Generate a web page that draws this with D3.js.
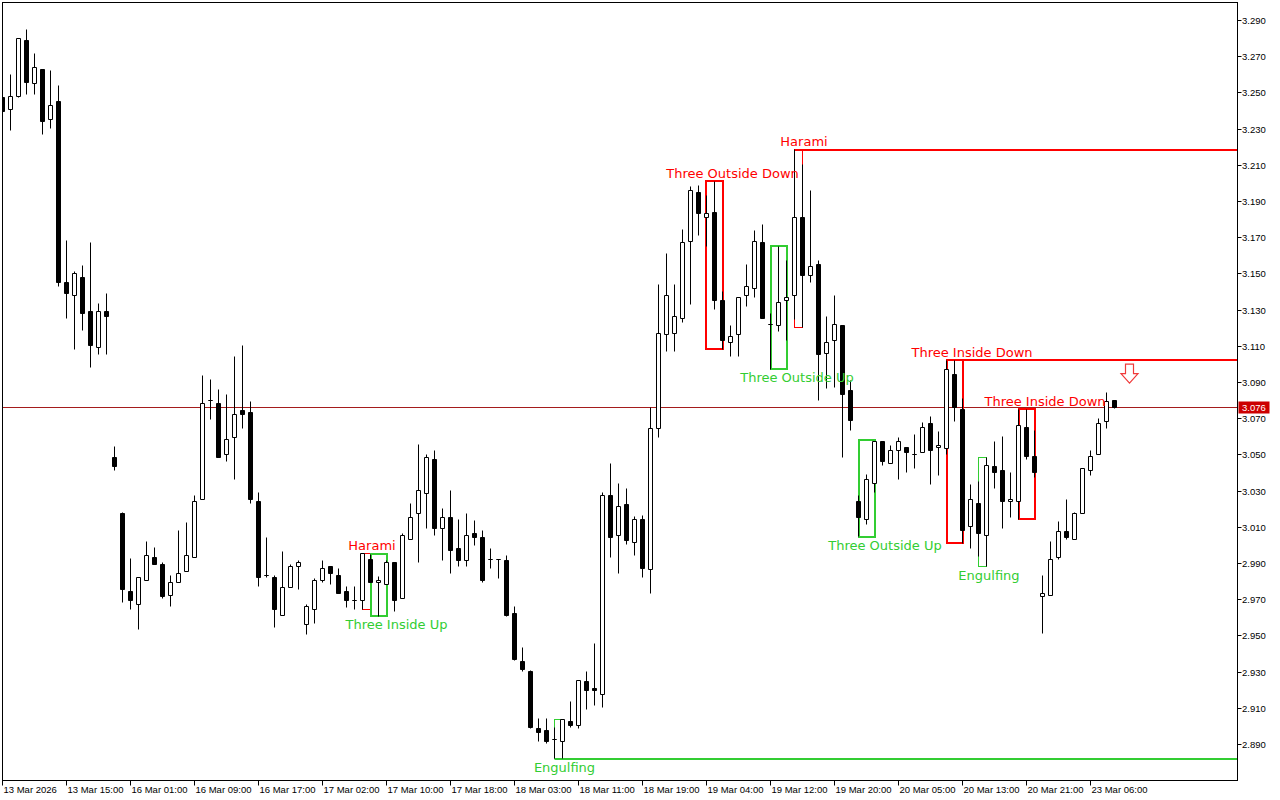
<!DOCTYPE html>
<html><head><meta charset="utf-8">
<script src="https://cdn.jsdelivr.net/npm/d3@7"></script>
<style>html,body{margin:0;padding:0;background:#fff;} svg{display:block}</style>
</head><body>
<svg id="c" width="1280" height="800"></svg>
<script>
// ---------- DATA (H1 candles) ----------
const open = [
3.2472,3.2409,3.2481,3.2791,3.2553,3.2630,3.2354,3.2455,3.1454,3.1380,
3.1481,3.1293,3.1092,3.1293,3.0487,3.0179,2.9746,2.9675,2.9807,2.9934,
2.9896,2.9724,2.9796,2.9857,2.9934,3.0255,3.0802,3.0785,3.0503,3.0597,
3.0746,3.0735,3.0244,2.9835,2.9824,2.9614,2.9769,2.9885,2.9564,2.9647,
2.9807,2.9885,2.9835,2.9746,2.9698,2.9697,2.9923,2.9796,2.9785,2.9907,
2.9708,3.0034,3.0177,3.0288,3.0476,3.0094,3.0155,2.9984,2.9918,3.0066,
3.0045,2.9922,2.9922,2.9918,2.9625,2.9356,2.9306,2.8991,2.8979,2.8929,
2.8916,2.9028,2.9004,2.9249,2.9210,2.9175,3.0277,3.0056,3.0227,3.0017,
3.0144,2.9868,3.0647,3.1166,3.1172,3.1255,3.1680,3.1951,3.1813,3.1840,
3.1354,3.1122,3.1166,3.1382,3.1420,3.1675,3.1223,3.1216,3.1354,3.1382,
3.1813,3.1492,3.1553,3.1061,3.1133,3.1216,3.0857,3.0244,3.0144,3.0343,
3.0575,3.0454,3.0525,3.0542,3.0503,3.0514,3.0675,3.0542,3.0536,3.0945,
3.0752,3.0106,3.0233,3.0056,3.0437,3.0415,3.0244,3.0244,3.0652,3.0492,
2.9719,2.9724,2.9934,3.0078,3.0034,3.0177,3.0415,3.0503,3.0686,3.0802];
const high = [
3.2483,3.2604,3.2803,3.2853,3.2715,3.2632,3.2621,3.2542,3.1682,3.1516,
3.1544,3.1676,3.1334,3.1394,3.0544,3.0183,2.9925,2.9824,3.0019,2.9986,
2.9908,2.9836,3.0085,3.0129,3.0278,3.0936,3.0914,3.0864,3.0836,3.1046,
3.1107,3.0796,3.0293,3.0045,2.9835,2.9967,2.9897,2.9919,2.9675,2.9818,
2.9918,2.9886,2.9874,2.9774,2.9774,2.9957,2.9951,2.9829,2.9918,2.9908,
3.0067,3.0233,3.0555,3.0503,3.0525,3.0205,3.0304,3.0144,3.0177,3.0135,
3.0080,2.9984,2.9923,2.9945,2.9664,2.9437,2.9307,2.9041,2.9046,2.8995,
2.9040,2.9139,2.9256,2.9304,2.9459,3.0293,3.0454,3.0343,3.0316,3.0159,
3.0166,3.0761,3.1443,3.1614,3.1443,3.1743,3.1984,3.1990,3.1934,3.2012,
3.1404,3.1216,3.1372,3.1553,3.1738,3.1774,3.1282,3.1652,3.1575,3.2185,
3.2102,3.1962,3.1575,3.1266,3.1382,3.1217,3.0912,3.0277,3.0393,3.0576,
3.0576,3.0553,3.0597,3.0543,3.0614,3.0680,3.0713,3.0630,3.1023,3.1023,
3.0813,3.0338,3.0354,3.0487,3.0575,3.0603,3.0404,3.0752,3.0752,3.0636,
2.9835,3.0023,3.0133,3.0255,3.0183,3.0427,3.0525,3.0702,3.0846,3.0803];
const low = [
3.2394,3.2291,3.2477,3.2490,3.2490,3.2269,3.2302,3.1429,3.1255,3.1080,
3.1190,3.0982,3.1054,3.1054,3.0413,2.9683,2.9645,2.9534,2.9805,2.9895,
2.9706,2.9661,2.9795,2.9856,2.9933,3.0254,3.0697,3.0486,3.0465,3.0365,
3.0647,3.0233,2.9772,2.9822,2.9548,2.9613,2.9768,2.9757,2.9509,2.9570,
2.9796,2.9785,2.9734,2.9658,2.9647,2.9647,2.9795,2.9608,2.9784,2.9636,
2.9707,3.0033,2.9907,3.0094,3.0056,2.9918,2.9846,2.9885,2.9885,2.9997,
2.9794,2.9871,2.9816,2.9607,2.9363,2.9302,2.8991,2.8916,2.8904,2.8822,
2.8820,2.8993,2.8987,2.9092,2.9114,2.9103,2.9933,2.9844,3.0004,2.9943,
2.9822,2.9735,3.0597,3.1070,3.1070,3.1230,3.1330,3.1713,3.1650,3.1304,
3.1080,3.1045,3.1044,3.1319,3.1371,3.1254,3.0973,3.1183,3.1131,3.1249,
3.1205,3.1454,3.0802,3.0868,3.0874,3.0487,3.0636,3.0050,3.0117,3.0293,
3.0443,3.0453,3.0365,3.0404,3.0426,3.0513,3.0338,3.0387,3.0503,3.0686,
3.0012,2.9984,2.9938,2.9883,3.0316,3.0094,3.0155,3.0144,3.0476,3.0376,
2.9514,2.9723,2.9922,3.0034,3.0033,3.0176,3.0387,3.0502,3.0647,3.0758];
const close = [
3.2400,3.2481,3.2802,3.2559,3.2641,3.2341,3.2432,3.1451,3.1393,3.1503,
3.1282,3.1103,3.1293,3.1264,3.0435,2.9755,2.9694,2.9820,2.9945,2.9896,
2.9717,2.9796,2.9846,2.9945,3.0244,3.0785,3.0800,3.0487,3.0586,3.0724,
3.0724,3.0253,2.9822,2.9833,2.9645,2.9769,2.9885,2.9907,2.9664,2.9807,
2.9874,2.9846,2.9735,2.9697,2.9697,2.9956,2.9796,2.9807,2.9907,2.9697,
3.0056,3.0155,3.0304,3.0487,3.0094,3.0155,2.9973,2.9918,3.0056,3.0044,
2.9806,2.9921,2.9921,2.9612,2.9372,2.9312,2.8993,2.8965,2.8916,2.8928,
2.9039,2.9004,2.9255,2.9199,2.9199,3.0277,3.0044,3.0216,3.0026,3.0144,
2.9874,3.0645,3.1170,3.1382,3.1264,3.1675,3.1962,3.1835,3.1835,3.1354,
3.1133,3.1155,3.1371,3.1431,3.1680,3.1255,3.1222,3.1343,3.1371,3.1813,
3.1492,3.1542,3.1056,3.1122,3.1221,3.0835,3.0691,3.0155,3.0365,3.0575,
3.0465,3.0525,3.0575,3.0514,3.0502,3.0652,3.0525,3.0553,3.0973,3.0763,
3.0082,3.0255,3.0067,3.0443,3.0404,3.0244,3.0255,3.0664,3.0492,3.0404,
2.9735,2.9923,3.0078,3.0045,3.0177,3.0426,3.0492,3.0675,3.0796,3.0760];

const xTickBars = [0,8,16,24,32,40,48,56,64,72,80,88,96,104,112,120,128,136];
const xTickLabels = ["13 Mar 2026","13 Mar 15:00","16 Mar 01:00","16 Mar 09:00","16 Mar 17:00",
  "17 Mar 02:00","17 Mar 10:00","17 Mar 18:00","18 Mar 03:00","18 Mar 11:00","18 Mar 19:00",
  "19 Mar 04:00","19 Mar 12:00","19 Mar 20:00","20 Mar 05:00","20 Mar 13:00","20 Mar 21:00","23 Mar 06:00"];
const yTickValues = [2.89,2.91,2.93,2.95,2.97,2.99,3.01,3.03,3.05,3.07,3.09,3.11,3.13,3.15,3.17,3.19,3.21,3.23,3.25,3.27,3.29];
const currentPrice = 3.076;

// candlestick pattern annotations: bars from..to, box price range
const patterns = [
  {name:"Harami",            kind:"bear", from:45,  to:46,  top:2.9957, bottom:2.9647, labelBar:46.19,  extend:false},
  {name:"Three Inside Up",   kind:"bull", from:46,  to:48,  top:2.9951, bottom:2.9608, labelBar:49.25,  extend:false},
  {name:"Engulfing",         kind:"bull", from:69,  to:70,  top:2.9040, bottom:2.8820, labelBar:70.25,  extend:true},
  {name:"Three Outside Down",kind:"bear", from:88,  to:90,  top:3.2012, bottom:3.1085, labelBar:91.25,  extend:false},
  {name:"Three Outside Up",  kind:"bull", from:96,  to:98,  top:3.1656, bottom:3.0975, labelBar:99.31,  extend:false},
  {name:"Harami",            kind:"bear", from:99,  to:100, top:3.2185, bottom:3.1205, labelBar:100.19, extend:true},
  {name:"Three Outside Up",  kind:"bull", from:107, to:109, top:3.0581, bottom:3.0048, labelBar:110.31, extend:false},
  {name:"Three Inside Down", kind:"bear", from:118, to:120, top:3.1023, bottom:3.0012, labelBar:121.19, extend:true},
  {name:"Engulfing",         kind:"bull", from:122, to:123, top:3.0487, bottom:2.9883, labelBar:123.31, extend:false},
  {name:"Three Inside Down", kind:"bear", from:127, to:129, top:3.0752, bottom:3.0144, labelBar:130.31, extend:false}
];
const arrowSignals = [{bar:140.875, price:3.1002}];

// ---------- LAYOUT ----------
const PL = 2.5, PR = 1237.5, PT = 2.5, PB = 780.5;
const barStep = 8;
const N = close.length;
const x = d3.scaleLinear().domain([0, N - 1]).range([PL, PL + barStep * (N - 1)]);
const y = d3.scaleLinear().domain([2.87011, 3.299945]).range([PB, PT]);
const s1 = v => Math.floor(v) + 0.5;   // crisp 1px
const s2 = v => Math.round(v);         // crisp 2px

const RED = "#ff0000", GREEN = "#32cd32";
const axisFont = "'Liberation Sans', Arial, sans-serif";
const labelFont = "'DejaVu Sans', Verdana, sans-serif";

const svg = d3.select("#c");
svg.append("rect").attr("width",1280).attr("height",800).attr("fill","#fff");
svg.append("defs").append("clipPath").attr("id","plotclip")
  .append("rect").attr("x",2).attr("y",2).attr("width",PR-2).attr("height",PB-2);
const plot = svg.append("g").attr("clip-path","url(#plotclip)");

// current price line
plot.append("line").attr("x1",2).attr("x2",PR).attr("y1",s1(y(currentPrice))).attr("y2",s1(y(currentPrice)))
  .attr("stroke","#a41c1c").attr("stroke-width",1);

// pattern boxes
patterns.forEach(p => {
  const col = p.kind === "bear" ? RED : GREEN;
  const w = (p.to - p.from) >= 2 ? 2 : 1;
  const sn = w === 2 ? s2 : s1;
  const x0 = sn(x(p.from)), x1 = sn(x(p.to));
  const yt = sn(y(p.top)), yb = sn(y(p.bottom));
  plot.append("rect").attr("x",x0).attr("y",yt).attr("width",x1-x0).attr("height",yb-yt)
    .attr("fill","none").attr("stroke",col).attr("stroke-width",w);
  if (p.extend) {
    const ly = s2(y(p.kind === "bear" ? p.top : p.bottom));
    plot.append("line").attr("x1",x0).attr("x2",PR).attr("y1",ly).attr("y2",ly)
      .attr("stroke",col).attr("stroke-width",2);
  }
});

// candles
const idx = d3.range(N);
plot.append("g").selectAll("line").data(idx).join("line")
  .attr("x1",i=>x(i)).attr("x2",i=>x(i))
  .attr("y1",i=>s1(y(high[i]))).attr("y2",i=>s1(y(low[i])))
  .attr("stroke","#000").attr("stroke-width",1);
plot.append("g").selectAll("path").data(idx).join("path")
  .attr("d", i => {
    const t = s1(y(Math.max(open[i],close[i]))), b = s1(y(Math.min(open[i],close[i])));
    const cx = x(i);
    return `M${cx-2},${t}H${cx+2}V${b}H${cx-2}Z`;
  })
  .attr("fill", i => close[i] >= open[i] ? "#fff" : "#000")
  .attr("stroke","#000").attr("stroke-width",1);

// pattern labels
patterns.forEach(p => {
  const bear = p.kind === "bear";
  plot.append("text").attr("x",x(p.labelBar))
    .attr("y", bear ? y(p.top) - 3.5 : y(p.bottom) + 13)
    .attr("text-anchor","middle").attr("font-family",labelFont).attr("font-size",13)
    .attr("fill", bear ? RED : GREEN).text(p.name);
});

// arrow signals
arrowSignals.forEach(a => {
  const cx = x(a.bar), t = y(a.price);
  plot.append("path")
    .attr("d",`M${cx-4},${t}H${cx+4}V${t+9.5}H${cx+8.5}L${cx},${t+19}L${cx-8.5},${t+9.5}H${cx-4}Z`)
    .attr("fill","#fff").attr("stroke","#f03a3a").attr("stroke-width",1.2);
});

// frame
const frame = svg.append("g").attr("stroke","#000").attr("stroke-width",1);
frame.append("line").attr("x1",2).attr("x2",PR+0.5).attr("y1",PT).attr("y2",PT);
frame.append("line").attr("x1",PL).attr("x2",PL).attr("y1",2).attr("y2",PB+0.5);
frame.append("line").attr("x1",2).attr("x2",PR+0.5).attr("y1",PB).attr("y2",PB);
frame.append("line").attr("x1",PR).attr("x2",PR).attr("y1",2).attr("y2",PB+0.5);

// y axis (right)
const ya = svg.append("g");
yTickValues.forEach(v => {
  const yy = s1(y(v));
  ya.append("line").attr("x1",PR).attr("x2",PR+4).attr("y1",yy).attr("y2",yy).attr("stroke","#000");
  ya.append("text").attr("x",PR+4.5).attr("y",yy+3.5).attr("font-family",axisFont).attr("font-size",9.5)
    .attr("fill","#000").text(d3.format(".3f")(v));
});
// current price label
const cpY = s1(y(currentPrice));
ya.append("rect").attr("x",PR+1).attr("y",cpY-6).attr("width",31).attr("height",12).attr("fill","#cc0000");
ya.append("text").attr("x",PR+4.5).attr("y",cpY+3.5).attr("font-family",axisFont).attr("font-size",9.5)
  .attr("fill","#fff").text(d3.format(".3f")(currentPrice));

// x axis (bottom)
const xa = svg.append("g");
xTickBars.forEach((b,k) => {
  const xx = x(b);
  xa.append("line").attr("x1",xx).attr("x2",xx).attr("y1",PB).attr("y2",PB+5).attr("stroke","#000");
  xa.append("text").attr("x",xx+1).attr("y",PB+12).attr("font-family",axisFont).attr("font-size",9.5)
    .attr("fill","#000").text(xTickLabels[k]);
});
</script>
</body></html>
